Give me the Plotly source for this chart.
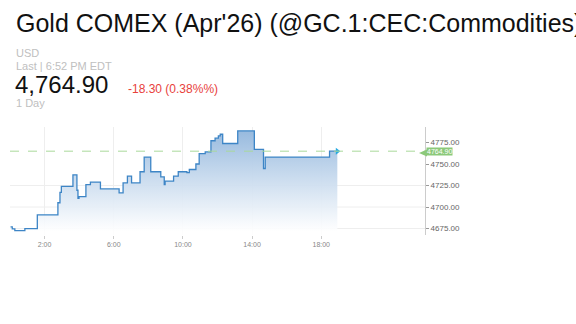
import plotly.graph_objects as go

# ---- data (hours of day, price) ----
step_hours = [0.03, 0.13, 0.28, 0.86, 1.58, 2.77, 2.89, 2.97, 3.64, 3.87, 3.93, 3.99,
              4.39, 4.65, 5.23, 6.31, 6.54, 6.79, 7.03, 7.52, 7.76, 8.14, 8.72, 8.92,
              8.97, 9.46, 9.73, 10.23, 10.37, 10.75, 10.94, 11.29, 11.62, 11.86, 12.05,
              12.16, 12.30, 13.17, 14.13, 14.66, 14.76, 18.48, 18.93]
step_prices = [4677.0, 4674.6, 4672.7, 4675.0, 4691.0, 4705.0, 4717.0, 4724.0, 4737.4,
               4719.5, 4710.0, 4712.0, 4726.0, 4729.0, 4721.0, 4716.5, 4728.0, 4736.0,
               4728.0, 4741.0, 4758.0, 4741.0, 4735.0, 4726.0, 4730.0, 4736.0, 4741.0,
               4740.0, 4743.6, 4750.0, 4762.0, 4764.0, 4777.0, 4780.0, 4782.6, 4784.6,
               4773.8, 4788.4, 4766.9, 4744.8, 4758.0, 4764.9, 4764.9]
last_price = 4764.90
x_tick_vals = [2, 6, 10, 14, 18]
x_tick_text = ["2:00", "6:00", "10:00", "14:00", "18:00"]
y_tick_vals = [4675, 4700, 4725, 4750, 4775]
y_tick_text = ["4675.00", "4700.00", "4725.00", "4750.00", "4775.00"]
y_grid_vals = [4675, 4700, 4725]

W, H = 576, 324
ML, MR, MT, MB = 10, 151, 127, 89
PW, PH = W - ML - MR, H - MT - MB
Y0, Y1 = 4667.5, 4793.0


def px(xp):
    return (xp - ML) / PW


def py(yp):
    return (H - MB - yp) / PH


fig = go.Figure()
fig.add_trace(go.Scatter(
    x=step_hours, y=step_prices, mode="lines", line=dict(shape="hv", color="#3d85c6", width=1.3),
    fill="tozeroy",
    fillgradient=dict(type="vertical", start=Y0 + 4, stop=4790,
                      colorscale=[[0, "rgba(255,255,255,0.9)"], [1, "rgba(150,185,222,1)"]]),
    hoverinfo="skip", showlegend=False))
fig.add_trace(go.Scatter(
    x=[step_hours[-1]], y=[step_prices[-1]], mode="markers",
    marker=dict(symbol="triangle-right", size=6, color="#27a9e1"),
    hoverinfo="skip", showlegend=False))

GRID = "#eeeeee"
for gv in y_grid_vals:
    fig.add_shape(type="line", xref="paper", yref="y", x0=0, x1=1, y0=gv, y1=gv,
                  line=dict(color=GRID, width=1), layer="below")

fig.add_hline(y=last_price, line=dict(color="#a9d99b", width=1, dash="dash"))

fig.update_layout(
    width=W, height=H, margin=dict(l=ML, r=MR, t=MT, b=MB),
    paper_bgcolor="white", plot_bgcolor="white",
    font=dict(family="Liberation Sans, Arial, sans-serif"),
    xaxis=dict(range=[0, 24], tickvals=x_tick_vals, ticktext=x_tick_text,
               showgrid=True, gridcolor=GRID, gridwidth=1, zeroline=False,
               ticks="outside", ticklen=3, tickcolor="#cccccc",
               tickfont=dict(size=7, color="#888888"), showline=False),
    yaxis=dict(range=[Y0, Y1], tickvals=y_tick_vals, ticktext=y_tick_text, side="right",
               showgrid=False, zeroline=False,
               showline=True, linecolor="#cccccc", linewidth=1,
               ticks="outside", ticklen=3, tickcolor="#999999",
               tickfont=dict(size=8, color="#666666")),
)

# price tag at right axis
fig.add_annotation(xref="paper", yref="y", x=1.0, y=last_price, xanchor="left", yanchor="middle",
                   xshift=1, text="4764.90", showarrow=False, bgcolor="#8cc97a",
                   font=dict(size=7, color="white"), borderpad=0)
fig.add_shape(type="path", xref="paper", yref="paper",
              path=f"M {px(419)} {py(153)} L {px(427)} {py(149.5)} L {px(427)} {py(156.5)} Z",
              fillcolor="#8cc97a", line=dict(width=0))

# header texts
def txt(x, y, s, size, color):
    fig.add_annotation(xref="paper", yref="paper", x=px(x), y=py(y), xanchor="left",
                       yanchor="middle", text=s, showarrow=False,
                       font=dict(size=size, color=color, family="Liberation Sans, Arial, sans-serif"))

txt(14, 23, "Gold COMEX (Apr'26) (@GC.1:CEC:Commodities)", 25, "#111111")
txt(14, 53, "USD", 11, "#c0c0c0")
txt(14, 65.5, "Last | 6:52 PM EDT", 11, "#c0c0c0")
txt(13, 84, "4,764.90", 24, "#111111")
txt(126, 89, "-18.30 (0.38%%)", 12, "#e8413c")
txt(14, 102.5, "1 Day", 11, "#c0c0c0")

fig.write_html("out.html")
